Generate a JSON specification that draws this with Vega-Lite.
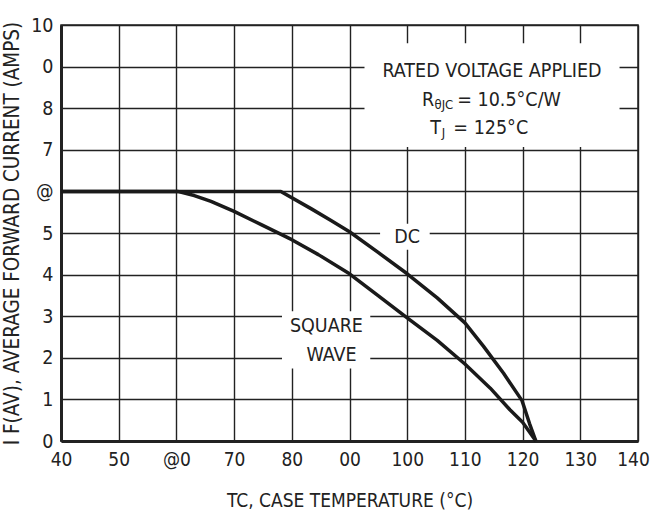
{
  "$schema": "https://vega.github.io/schema/vega-lite/v6.json",
  "width": 577,
  "height": 416,
  "autosize": "none",
  "padding": {"left": 61, "top": 25, "right": 15, "bottom": 74},
  "background": "white",
  "config": {
    "view": {"stroke": "#222222", "strokeWidth": 1.5},
    "font": "DejaVu Sans Condensed",
    "axis": {"labelFont": "DejaVu Sans Condensed", "titleFont": "DejaVu Sans Condensed"}
  },
  "datasets": {
    "curves": [
      {"series": "DC", "x": 40, "y": 6},
      {"series": "DC", "x": 78.1, "y": 6},
      {"series": "DC", "x": 83.4, "y": 5.58},
      {"series": "DC", "x": 86.8, "y": 5.3},
      {"series": "DC", "x": 90, "y": 5.03},
      {"series": "DC", "x": 94.9, "y": 4.54},
      {"series": "DC", "x": 100, "y": 4.02},
      {"series": "DC", "x": 105.2, "y": 3.44},
      {"series": "DC", "x": 110, "y": 2.84},
      {"series": "DC", "x": 113.2, "y": 2.28},
      {"series": "DC", "x": 116.7, "y": 1.63},
      {"series": "DC", "x": 119.9, "y": 0.97},
      {"series": "DC", "x": 121.2, "y": 0.42},
      {"series": "DC", "x": 122.3, "y": 0},
      {"series": "SQUARE WAVE", "x": 40, "y": 6},
      {"series": "SQUARE WAVE", "x": 60.2, "y": 6},
      {"series": "SQUARE WAVE", "x": 63.1, "y": 5.9},
      {"series": "SQUARE WAVE", "x": 66, "y": 5.76},
      {"series": "SQUARE WAVE", "x": 70, "y": 5.52},
      {"series": "SQUARE WAVE", "x": 74.7, "y": 5.2},
      {"series": "SQUARE WAVE", "x": 80, "y": 4.84},
      {"series": "SQUARE WAVE", "x": 84.6, "y": 4.48},
      {"series": "SQUARE WAVE", "x": 90, "y": 4.02},
      {"series": "SQUARE WAVE", "x": 94.9, "y": 3.5},
      {"series": "SQUARE WAVE", "x": 100, "y": 2.96},
      {"series": "SQUARE WAVE", "x": 105.2, "y": 2.42},
      {"series": "SQUARE WAVE", "x": 110, "y": 1.85},
      {"series": "SQUARE WAVE", "x": 114.4, "y": 1.27},
      {"series": "SQUARE WAVE", "x": 117.8, "y": 0.75},
      {"series": "SQUARE WAVE", "x": 120, "y": 0.45},
      {"series": "SQUARE WAVE", "x": 122.3, "y": 0}
    ],
    "boxes": [
      {"x": 92.6, "x2": 136.8, "y": 7.07, "y2": 9.56},
      {"x": 95.3, "x2": 103.9, "y": 4.6, "y2": 5.22},
      {"x": 78.3, "x2": 93.6, "y": 1.74, "y2": 3.12}
    ],
    "labels": [
      {"x": 114.7, "y": 8.9, "text": "RATED VOLTAGE APPLIED", "kind": "center"},
      {"x": 100.0, "y": 4.91, "text": "DC", "kind": "center"},
      {"x": 86.0, "y": 2.76, "text": "SQUARE", "kind": "center"},
      {"x": 86.9, "y": 2.07, "text": "WAVE", "kind": "center"},
      {"x": 102.57, "y": 8.2, "text": "R", "kind": "left"},
      {"x": 104.73, "y": 8.2, "text": "θJC", "kind": "sub"},
      {"x": 108.68, "y": 8.2, "text": "= 10.5°C/W", "kind": "left"},
      {"x": 104.0, "y": 7.52, "text": "T", "kind": "left"},
      {"x": 106.0, "y": 7.52, "text": "J", "kind": "sub"},
      {"x": 108.0, "y": 7.52, "text": "= 125°C", "kind": "left"}
    ]
  },
  "encoding": {
    "x": {
      "field": "x",
      "type": "quantitative",
      "scale": {"domain": [40, 140], "nice": false, "zero": false},
      "axis": {
        "values": [40, 50, 60, 70, 80, 90, 100, 110, 120, 130, 140],
        "labelExpr": "datum.value == 60 ? '@0' : datum.value == 90 ? '00' : datum.label",
        "labelFlush": false,
        "labelOverlap": false,
        "labelOffset": {"expr": "datum.value == 140 ? -5 : 0"},
        "grid": true,
        "gridColor": "#222222",
        "gridOpacity": 1,
        "gridWidth": 1.4,
        "domainColor": "#222222",
        "domainWidth": 3,
        "ticks": false,
        "labelFontSize": 19,
        "labelColor": "#222222",
        "labelPadding": 9,
        "title": "TC, CASE TEMPERATURE (°C)",
        "titleFontSize": 19,
        "titleFontWeight": "normal",
        "titleColor": "#222222",
        "titlePadding": 22
      }
    },
    "y": {
      "field": "y",
      "type": "quantitative",
      "scale": {"domain": [0, 10], "nice": false},
      "axis": {
        "values": [0, 1, 2, 3, 4, 5, 6, 7, 8, 9, 10],
        "labelExpr": "datum.value == 9 ? '0' : datum.value == 6 ? '@' : datum.label",
        "labelFlush": false,
        "labelOverlap": false,
        "grid": true,
        "gridColor": "#222222",
        "gridOpacity": 1,
        "gridWidth": 1.4,
        "domainColor": "#222222",
        "domainWidth": 3,
        "ticks": false,
        "labelFontSize": 19.5,
        "labelColor": "#222222",
        "labelPadding": 8,
        "title": "I F(AV), AVERAGE FORWARD CURRENT (AMPS)",
        "titleFontSize": 20.5,
        "titleFontWeight": "normal",
        "titleColor": "#222222",
        "titlePadding": 8
      }
    }
  },
  "layer": [
    {
      "data": {"name": "boxes"},
      "mark": {"type": "rect", "fill": "white", "strokeWidth": 0},
      "encoding": {"x2": {"field": "x2"}, "y2": {"field": "y2"}}
    },
    {
      "data": {"name": "curves"},
      "mark": {"type": "line", "color": "#1a1a1a", "strokeWidth": 3.5, "strokeJoin": "round"},
      "encoding": {"detail": {"field": "series", "type": "nominal"}}
    },
    {
      "data": {"name": "labels"},
      "transform": [{"filter": "datum.kind == 'center'"}],
      "mark": {"type": "text", "fontSize": 19.5, "color": "#222222", "align": "center", "baseline": "middle"},
      "encoding": {"text": {"field": "text", "type": "nominal"}}
    },
    {
      "data": {"name": "labels"},
      "transform": [{"filter": "datum.kind == 'left'"}],
      "mark": {"type": "text", "fontSize": 19.5, "color": "#222222", "align": "left", "baseline": "middle"},
      "encoding": {"text": {"field": "text", "type": "nominal"}}
    },
    {
      "data": {"name": "labels"},
      "transform": [{"filter": "datum.kind == 'sub'"}],
      "mark": {"type": "text", "fontSize": 13, "color": "#222222", "align": "left", "baseline": "middle", "dy": 5},
      "encoding": {"text": {"field": "text", "type": "nominal"}}
    }
  ]
}
